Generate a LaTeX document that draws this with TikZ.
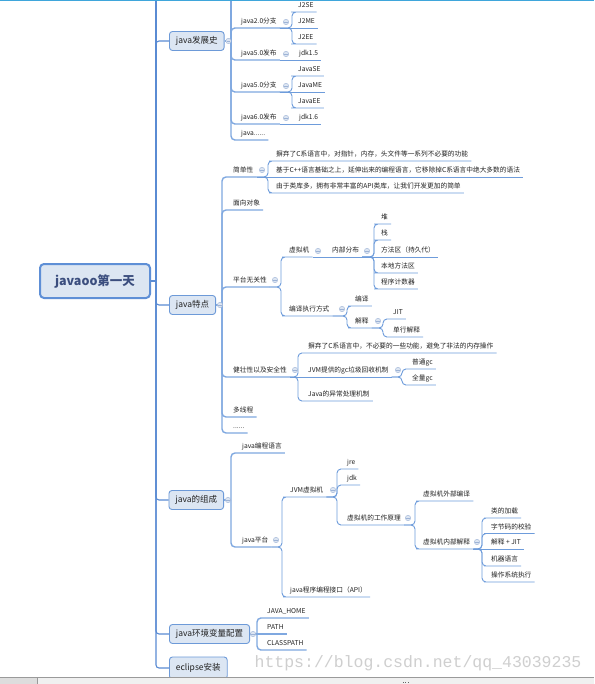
\documentclass[tikz,border=0pt]{standalone}
\usepackage{fontspec}
\newfontfamily\cjk{Noto Sans CJK SC}
\newfontfamily\wmfont{Liberation Mono}
\definecolor{lnA}{HTML}{5A8BD3}
\definecolor{lnB}{HTML}{7FA8E0}
\definecolor{lnC}{HTML}{6E9CDB}
\definecolor{boxf}{HTML}{DCE6F3}
\definecolor{boxd}{HTML}{6D9AD8}
\definecolor{rootf}{HTML}{DCE6F2}
\definecolor{rootd}{HTML}{5E8FD6}
\definecolor{roott}{HTML}{3B4E7E}
\definecolor{txt}{HTML}{222222}
\definecolor{ccd}{HTML}{9DB3D6}
\definecolor{ccf}{HTML}{DCE5F2}
\definecolor{wmc}{HTML}{CFCFCF}
\definecolor{topc}{HTML}{3FA6DB}
\definecolor{barf}{HTML}{F0F0F0}
\definecolor{barl}{HTML}{9A9A9A}
\begin{document}
\begin{tikzpicture}[x=1pt,y=-1pt,
  lf/.style={anchor=south west, inner xsep=3pt, inner ysep=2.7pt, text height=5.2pt, text depth=1.3pt, font=\cjk\fontsize{6.7}{7}\selectfont, text=txt},
  lone/.style={anchor=west, rounded corners=3pt, draw=boxd, fill=boxf, line width=0.9pt, inner xsep=6.5pt, minimum height=19pt, font=\cjk\fontsize{8.5}{10}\selectfont, text=txt},
  rootbox/.style={draw=rootd, line width=2pt, fill=rootf, rounded corners=4pt, minimum width=110pt, minimum height=34pt, font=\cjk\bfseries\fontsize{12.5}{14}\selectfont, text=roott},
  trunk/.style={draw=lnA, line width=1.1pt, rounded corners=3pt},
  brA/.style={draw=lnB, line width=1.4pt, rounded corners=4pt},
  brB/.style={draw=lnC, line width=0.9pt, rounded corners=4pt},
  cc/.style={circle, draw=ccd, fill=ccf, line width=0.4pt, minimum size=5.4pt, inner sep=0pt,
    path picture={\draw[ccd,line width=0.5pt] ([xshift=-1.7pt]path picture bounding box.center) -- ([xshift=1.7pt]path picture bounding box.center);}},
  wm/.style={font=\wmfont\fontsize{16.5}{18}\selectfont, text=wmc, inner sep=0pt}
]
\useasboundingbox (0,0) rectangle (594,684);
\fill[white] (0,0) rectangle (594,684);

% ---------- nodes ----------
\node[rootbox] (root) at (95,281) {javaoo第一天};
\node[lone] (jfz) at (169,41) {java发展史};
\node[lone] (td) at (169,305) {java特点};
\node[lone] (zc) at (168.5,500) {java的组成};
\node[lone] (hj) at (169,634) {java环境变量配置};
\node[lone, minimum height=22pt] (ecl) at (169,668) {eclipse安装};

% java发展史
\node[lf] (h1) at (238,28) {java2.0分支};
\node[lf] (j2se) at (295,12) {J2SE};
\node[lf] (j2me) at (295,28) {J2ME};
\node[lf] (j2ee) at (295,44) {J2EE};
\node[lf] (h2) at (238,60) {java5.0发布};
\node[lf] (jdk15) at (296,60) {jdk1.5};
\node[lf] (h3) at (238,92) {java5.0分支};
\node[lf] (jse) at (295,76) {JavaSE};
\node[lf] (jme) at (295,92) {JavaME};
\node[lf] (jee) at (295,108) {JavaEE};
\node[lf] (h4) at (238,124) {java6.0发布};
\node[lf] (jdk16) at (296,124) {jdk1.6};
\node[lf] (h5) at (238,140) {java......};

% java特点
\node[lf] (jdx) at (230,177) {简单性};
\node[lf] (s1) at (273,161) {摒弃了C系语言中，对指针，内存，头文件等一系列不必要的功能};
\node[lf] (s2) at (273,177) {基于C++语言基础之上，延伸出来的编程语言，它移除掉C系语言中绝大多数的语法};
\node[lf] (s3) at (273,193) {由于类库多，拥有非常丰富的API类库，让我们开发更加的简单};
\node[lf] (mx) at (230,210) {面向对象};
\node[lf] (pt) at (230,287) {平台无关性};
\node[lf] (vm) at (286,257) {虚拟机};
\node[lf] (nb) at (329,257) {内部分布};
\node[lf] (dui) at (378,224) {堆};
\node[lf] (zhan) at (378,240) {栈};
\node[lf] (ff) at (378,257) {方法区（持久代）};
\node[lf] (bd) at (378,273) {本地方法区};
\node[lf] (cx) at (378,289) {程序计数器};
\node[lf] (by) at (286,316) {编译执行方式};
\node[lf] (bianyi) at (352,306) {编译};
\node[lf] (js) at (352,328) {解释};
\node[lf] (jit) at (390,319) {JIT};
\node[lf] (dh) at (390,337) {单行解释};
\node[lf] (jz) at (230,377) {健壮性以及安全性};
\node[lf] (r1) at (305,353) {摒弃了C系语言中，不必要的一些功能，避免了非法的内存操作};
\node[lf] (gc) at (305,377) {JVM提供的gc垃圾回收机制};
\node[lf] (pgc) at (409,369) {普通gc};
\node[lf] (qgc) at (409,385) {全量gc};
\node[lf] (yc) at (305,401) {Java的异常处理机制};
\node[lf] (dxc) at (230,417) {多线程};
\node[lf] (dots) at (230,433) {......};

% java的组成
\node[lf] (yy) at (239,453) {java编程语言};
\node[lf] (pt2) at (239,547) {java平台};
\node[lf] (jvm) at (287,497) {JVM虚拟机};
\node[lf] (jre) at (344,469) {jre};
\node[lf] (jdk) at (344,485) {jdk};
\node[lf] (gz) at (344,525) {虚拟机的工作原理};
\node[lf] (wb) at (420,501) {虚拟机外部编译};
\node[lf] (nbj) at (420,549) {虚拟机内部解释};
\node[lf] (jza) at (488,518) {类的加载};
\node[lf] (jzb) at (488,533.5) {字节码的校验};
\node[lf] (jzc) at (488,549) {解释 + JIT};
\node[lf] (jzd) at (488,566) {机器语言};
\node[lf] (jze) at (488,582) {操作系统执行};
\node[lf] (api) at (287,597) {java程序编程接口（API）};

% java环境变量配置
\node[lf] (jh) at (264,618) {JAVA\_HOME};
\node[lf] (path) at (264,634) {PATH};
\node[lf] (cp) at (264,650) {CLASSPATH};

% ---------- coordinates ----------
\coordinate (tA) at (156,281);
\coordinate (tTop) at (156,0);
\coordinate (fA) at (231,41);
\coordinate (fTop) at (231,0);
\coordinate (dA) at (222,305);
\coordinate (zA) at (231,500);
\coordinate (eA) at (257,634);

% ---------- connectors ----------
\draw[trunk] (root.east) -- (tA);
\draw[trunk] (tA) -- (tTop);
\foreach \n in {jfz,td,zc,hj,ecl} \draw[trunk] (tA) |- (\n.west);

% 发展史
\draw[brA] (jfz.east) -- (fA);
\draw[brA] (fA) -- (fTop);
\foreach \n in {h1,h2,h3,h4,h5} \draw[brA] (fA) |- (\n.south west) -- (\n.south east);
\draw[brB] (h1.south east) -- (292,28) |- (j2se.south west) -- (j2se.south east);
\draw[brB] (h1.south east) -- (j2me.south east);
\draw[brB] (h1.south east) -- (292,28) |- (j2ee.south west) -- (j2ee.south east);
\draw[brB] (h2.south east) -- (jdk15.south east);
\draw[brB] (h3.south east) -- (292,92) |- (jse.south west) -- (jse.south east);
\draw[brB] (h3.south east) -- (jme.south east);
\draw[brB] (h3.south east) -- (292,92) |- (jee.south west) -- (jee.south east);
\draw[brB] (h4.south east) -- (jdk16.south east);

% 特点
\draw[brA] (td.east) -- (dA);
\foreach \n in {jdx,mx,pt,jz,dxc,dots} \draw[brA] (dA) |- (\n.south west) -- (\n.south east);
\draw[brB] (jdx.south east) -- (268,177) |- (s1.south west) -- (s1.south east);
\draw[brB] (jdx.south east) -- (s2.south east);
\draw[brB] (jdx.south east) -- (268,177) |- (s3.south west) -- (s3.south east);
\foreach \n in {vm,by} \draw[brB] (pt.south east) -- (281,287) |- (\n.south west) -- (\n.south east);
\draw[brB] (vm.south east) -- (nb.south east);
\foreach \n in {dui,zhan,bd,cx} \draw[brB] (nb.south east) -- (374,257) |- (\n.south west) -- (\n.south east);
\draw[brB] (nb.south east) -- (ff.south east);
\foreach \n in {bianyi,js} \draw[brB] (by.south east) -- (347,316) |- (\n.south west) -- (\n.south east);
\foreach \n in {jit,dh} \draw[brB] (js.south east) -- (383,328) |- (\n.south west) -- (\n.south east);
\foreach \n in {r1,yc} \draw[brB] (jz.south east) -- (298,377) |- (\n.south west) -- (\n.south east);
\draw[brB] (jz.south east) -- (gc.south east);
\foreach \n in {pgc,qgc} \draw[brB] (gc.south east) -- (402,377) |- (\n.south west) -- (\n.south east);

% 组成
\draw[brA] (zc.east) -- (zA);
\foreach \n in {yy,pt2} \draw[brA] (zA) |- (\n.south west) -- (\n.south east);
\foreach \n in {jvm,api} \draw[brB] (pt2.south east) -- (282,547) |- (\n.south west) -- (\n.south east);
\foreach \n in {jre,jdk,gz} \draw[brB] (jvm.south east) -- (337,497) |- (\n.south west) -- (\n.south east);
\foreach \n in {wb,nbj} \draw[brB] (gz.south east) -- (415,525) |- (\n.south west) -- (\n.south east);
\foreach \n in {jza,jzb,jzd,jze} \draw[brB] (nbj.south east) -- (482,549) |- (\n.south west) -- (\n.south east);
\draw[brB] (nbj.south east) -- (jzc.south east);

% 环境变量
\draw[brA] (hj.east) -- (eA);
\foreach \n in {jh,cp} \draw[brA] (eA) |- (\n.south west) -- (\n.south east);
\draw[brA] (eA) -- (path.south east);

% ---------- collapse circles ----------
\node[cc] (c1) at (228.5,41) {};
\node[cc] (c2) at (286,22) {};
\node[cc] (c3) at (286,54) {};
\node[cc] (c4) at (286,86) {};
\node[cc] (c5) at (286,118) {};
\node[cc] (c6) at (220,305) {};
\node[cc] (c7) at (262,170) {};
\node[cc] (c8) at (275,280) {};
\node[cc] (c9) at (318,251) {};
\node[cc] (c10) at (367,251) {};
\node[cc] (c11) at (342,309) {};
\node[cc] (c12) at (378,321) {};
\node[cc] (c13) at (295,370) {};
\node[cc] (c14) at (398,370) {};
\node[cc] (c15) at (228,500) {};
\node[cc] (c16) at (276,540) {};
\node[cc] (c17) at (333,490) {};
\node[cc] (c18) at (408,518) {};
\node[cc] (c19) at (477,542) {};
\node[cc] (c20) at (253,634) {};

% ---------- watermark & frame ----------
\node[wm] (wmk) at (418,663) {https://blog.csdn.net/qq\_43039235};
\draw[topc, line width=1pt] (0,0.5) -- (594,0.5);
\fill[barf] (0,677.5) rectangle (594,684);
\fill[barf!92!black] (0,677.5) rectangle (37,684);
\draw[barl, line width=0.8pt] (0,677.5) -- (594,677.5);
\draw[barl, line width=0.6pt] (37,677.5) -- (37,684);
\foreach \dx in {402.5,405,407.5} \fill[black!60] (\dx,681.6) rectangle ++(1,1);
\end{tikzpicture}
\end{document}
